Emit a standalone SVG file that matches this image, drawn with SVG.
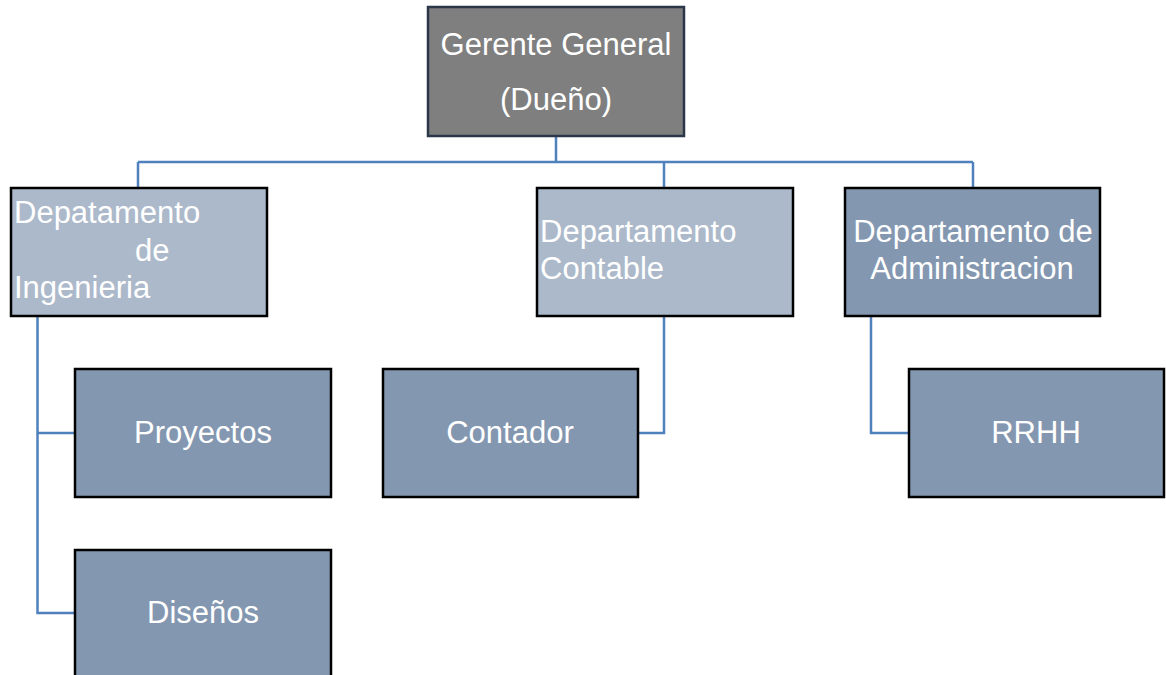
<svg xmlns="http://www.w3.org/2000/svg" width="1166" height="675" viewBox="0 0 1166 675">
<style>
.box{stroke:#000;stroke-width:2.5}
.top{fill:#7F7F7F;stroke:#2B3648;stroke-width:2.5}
.light{fill:#ACB9CA}
.dark{fill:#8497B0}
.t{font-family:"Liberation Sans",Arial,sans-serif;font-size:31px;fill:#fff}
.c{text-anchor:middle}
.ln{fill:none;stroke:#4F81BD;stroke-width:2.5}
</style>
<rect width="1166" height="675" fill="#fff"/>
<g id="connectors">
<path class="ln" d="M556 136V162M138 162H973M138 162V188M664 162V188M973 162V188"/>
<path class="ln" d="M37.5 316V613H75M37.5 433H75"/>
<path class="ln" d="M664 316V433H638"/>
<path class="ln" d="M871 316V433H909"/>
</g>
<g id="gerente">
<rect class="top" x="428" y="7" width="256" height="129"/>
<text class="t c" x="556" y="55">Gerente General</text>
<text class="t c" x="556" y="110">(Dueño)</text>
</g>
<g id="ingenieria">
<rect class="box light" x="11" y="188" width="256" height="128"/>
<text class="t" x="14" y="223">Depatamento</text>
<text class="t" x="135" y="261">de</text>
<text class="t" x="14" y="298">Ingenieria</text>
</g>
<g id="contable">
<rect class="box light" x="537" y="188" width="256" height="128"/>
<text class="t" x="540" y="242">Departamento</text>
<text class="t" x="540" y="279">Contable</text>
</g>
<g id="administracion">
<rect class="box dark" x="845" y="188" width="255" height="128"/>
<text class="t c" x="973" y="242">Departamento de</text>
<text class="t c" x="972" y="279">Administracion</text>
</g>
<g id="proyectos">
<rect class="box dark" x="75" y="369" width="256" height="128"/>
<text class="t c" x="203" y="443">Proyectos</text>
</g>
<g id="disenos">
<rect class="box dark" x="75" y="550" width="256" height="140"/>
<text class="t c" x="203" y="623">Diseños</text>
</g>
<g id="contador">
<rect class="box dark" x="383" y="369" width="255" height="128"/>
<text class="t c" x="510" y="443">Contador</text>
</g>
<g id="rrhh">
<rect class="box dark" x="909" y="369" width="255" height="128"/>
<text class="t c" x="1036" y="443">RRHH</text>
</g>
</svg>
